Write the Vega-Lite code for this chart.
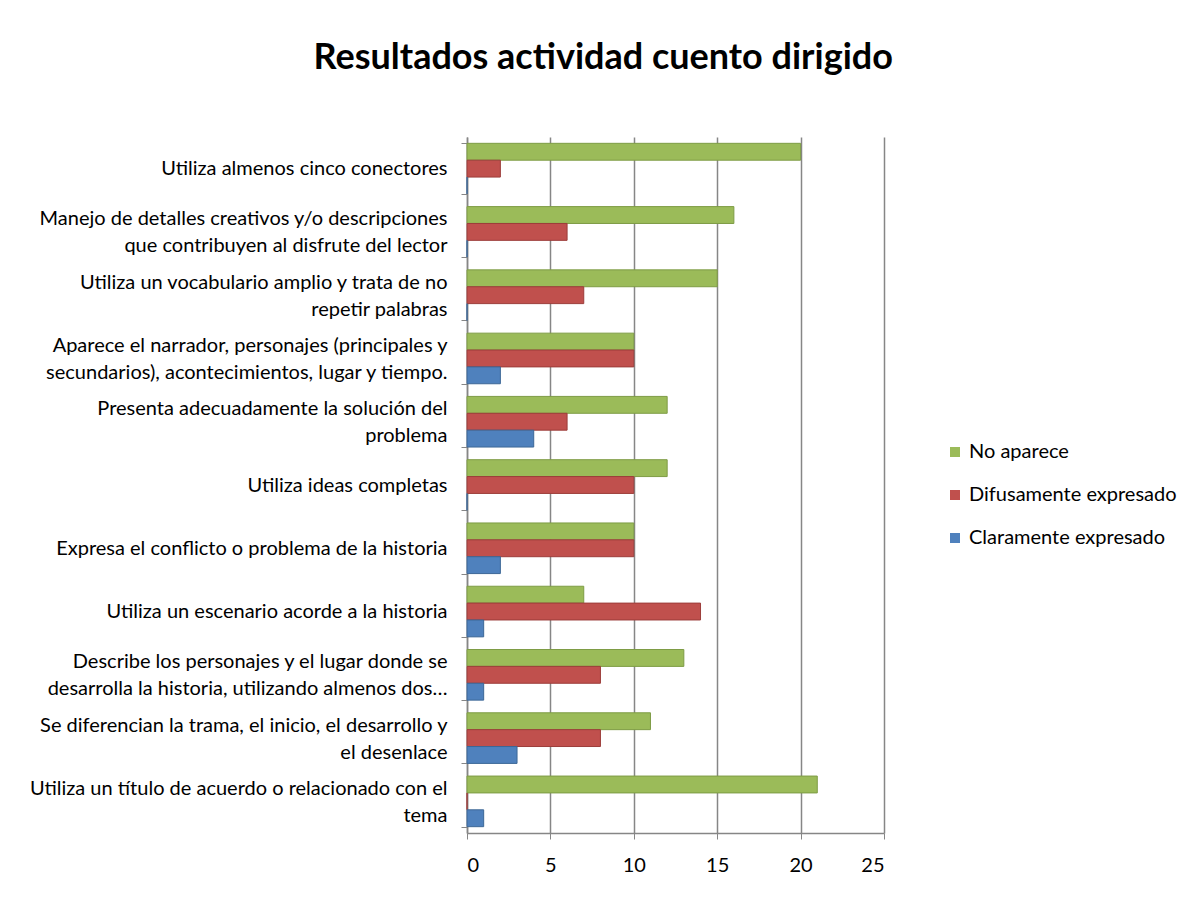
{
  "$schema": "https://vega.github.io/schema/vega-lite/v6.json",
  "width": 417,
  "height": 696,
  "padding": {"left": 29, "top": 40, "right": 5, "bottom": 5},
  "autosize": {"type": "pad"},
  "background": "white",
  "title": {
    "text": "Resultados actividad cuento dirigido",
    "font": "Lato",
    "fontSize": 36,
    "fontWeight": "bold",
    "color": "#000000",
    "anchor": "middle",
    "frame": "bounds",
    "offset": 50
  },
  "data": {
    "values": [
      {"criterio": "Utiliza almenos cinco conectores", "nivel": "No aparece", "valor": 20},
      {"criterio": "Utiliza almenos cinco conectores", "nivel": "Difusamente expresado", "valor": 2},
      {"criterio": "Utiliza almenos cinco conectores", "nivel": "Claramente expresado", "valor": 0},
      {"criterio": "Manejo de detalles creativos y/o descripciones|que contribuyen al disfrute del lector", "nivel": "No aparece", "valor": 16},
      {"criterio": "Manejo de detalles creativos y/o descripciones|que contribuyen al disfrute del lector", "nivel": "Difusamente expresado", "valor": 6},
      {"criterio": "Manejo de detalles creativos y/o descripciones|que contribuyen al disfrute del lector", "nivel": "Claramente expresado", "valor": 0},
      {"criterio": "Utiliza un vocabulario amplio y trata de no|repetir palabras", "nivel": "No aparece", "valor": 15},
      {"criterio": "Utiliza un vocabulario amplio y trata de no|repetir palabras", "nivel": "Difusamente expresado", "valor": 7},
      {"criterio": "Utiliza un vocabulario amplio y trata de no|repetir palabras", "nivel": "Claramente expresado", "valor": 0},
      {"criterio": "Aparece el narrador, personajes (principales y|secundarios), acontecimientos, lugar y tiempo.", "nivel": "No aparece", "valor": 10},
      {"criterio": "Aparece el narrador, personajes (principales y|secundarios), acontecimientos, lugar y tiempo.", "nivel": "Difusamente expresado", "valor": 10},
      {"criterio": "Aparece el narrador, personajes (principales y|secundarios), acontecimientos, lugar y tiempo.", "nivel": "Claramente expresado", "valor": 2},
      {"criterio": "Presenta adecuadamente la solución del|problema", "nivel": "No aparece", "valor": 12},
      {"criterio": "Presenta adecuadamente la solución del|problema", "nivel": "Difusamente expresado", "valor": 6},
      {"criterio": "Presenta adecuadamente la solución del|problema", "nivel": "Claramente expresado", "valor": 4},
      {"criterio": "Utiliza ideas completas", "nivel": "No aparece", "valor": 12},
      {"criterio": "Utiliza ideas completas", "nivel": "Difusamente expresado", "valor": 10},
      {"criterio": "Utiliza ideas completas", "nivel": "Claramente expresado", "valor": 0},
      {"criterio": "Expresa el conflicto o problema de la historia", "nivel": "No aparece", "valor": 10},
      {"criterio": "Expresa el conflicto o problema de la historia", "nivel": "Difusamente expresado", "valor": 10},
      {"criterio": "Expresa el conflicto o problema de la historia", "nivel": "Claramente expresado", "valor": 2},
      {"criterio": "Utiliza un escenario acorde a la historia", "nivel": "No aparece", "valor": 7},
      {"criterio": "Utiliza un escenario acorde a la historia", "nivel": "Difusamente expresado", "valor": 14},
      {"criterio": "Utiliza un escenario acorde a la historia", "nivel": "Claramente expresado", "valor": 1},
      {"criterio": "Describe los personajes y el lugar donde se|desarrolla la historia, utilizando almenos dos…", "nivel": "No aparece", "valor": 13},
      {"criterio": "Describe los personajes y el lugar donde se|desarrolla la historia, utilizando almenos dos…", "nivel": "Difusamente expresado", "valor": 8},
      {"criterio": "Describe los personajes y el lugar donde se|desarrolla la historia, utilizando almenos dos…", "nivel": "Claramente expresado", "valor": 1},
      {"criterio": "Se diferencian la trama, el inicio, el desarrollo y|el desenlace", "nivel": "No aparece", "valor": 11},
      {"criterio": "Se diferencian la trama, el inicio, el desarrollo y|el desenlace", "nivel": "Difusamente expresado", "valor": 8},
      {"criterio": "Se diferencian la trama, el inicio, el desarrollo y|el desenlace", "nivel": "Claramente expresado", "valor": 3},
      {"criterio": "Utiliza un título de acuerdo o relacionado con el|tema", "nivel": "No aparece", "valor": 21},
      {"criterio": "Utiliza un título de acuerdo o relacionado con el|tema", "nivel": "Difusamente expresado", "valor": 0},
      {"criterio": "Utiliza un título de acuerdo o relacionado con el|tema", "nivel": "Claramente expresado", "valor": 1}
    ]
  },
  "mark": {"type": "bar", "strokeWidth": 1},
  "encoding": {
    "y": {
      "field": "criterio",
      "type": "nominal",
      "sort": null,
      "title": null,
      "scale": {"paddingInner": 0.2, "paddingOuter": 0.1},
      "axis": {
        "labelExpr": "datum.value ? split(datum.value, '|') : ''",
        "labelFont": "Lato",
        "labelFontSize": 20,
        "labelColor": "#000000",
        "labelLineHeight": 27,
        "labelPadding": 14,
        "labelLimit": 700,
        "labelOffset": {"condition": {"test": "datum.value && indexof(datum.value, '|') >= 0", "value": -13}, "value": 0},
        "tickBand": "extent",
        "tickSize": 6,
        "tickColor": "#868686",
        "domainColor": "#868686",
        "domainWidth": 1.5,
        "grid": false
      }
    },
    "x": {
      "field": "valor",
      "type": "quantitative",
      "title": null,
      "scale": {"domain": [0, 25]},
      "axis": {
        "values": [0, 5, 10, 15, 20, 25],
        "labelFont": "Lato",
        "labelFontSize": 20,
        "labelColor": "#000000",
        "labelPadding": 16,
        "tickColor": "#868686",
        "tickSize": 6,
        "domainColor": "#868686",
        "domainWidth": 1.5,
        "grid": true,
        "gridColor": "#868686",
        "gridWidth": 1.5
      }
    },
    "yOffset": {
      "field": "nivel",
      "type": "nominal",
      "sort": ["No aparece", "Difusamente expresado", "Claramente expresado"],
      "scale": {"paddingInner": 0}
    },
    "color": {
      "field": "nivel",
      "type": "nominal",
      "sort": ["No aparece", "Difusamente expresado", "Claramente expresado"],
      "scale": {
        "domain": ["No aparece", "Difusamente expresado", "Claramente expresado"],
        "range": ["#9BBB59", "#C0504D", "#4F81BD"]
      },
      "legend": {
        "title": null,
        "orient": "none",
        "legendX": 478,
        "legendY": 305,
        "symbolType": "square",
        "symbolSize": 100,
        "symbolStrokeWidth": 0,
        "labelFont": "Lato",
        "labelFontSize": 20,
        "labelColor": "#000000",
        "labelLimit": 400,
        "rowPadding": 23,
        "labelOffset": 4
      }
    },
    "stroke": {
      "field": "nivel",
      "type": "nominal",
      "scale": {
        "domain": ["No aparece", "Difusamente expresado", "Claramente expresado"],
        "range": ["#7E9C45", "#9C3D3A", "#3C6796"]
      },
      "legend": null
    }
  },
  "config": {
    "view": {"stroke": null}
  }
}
